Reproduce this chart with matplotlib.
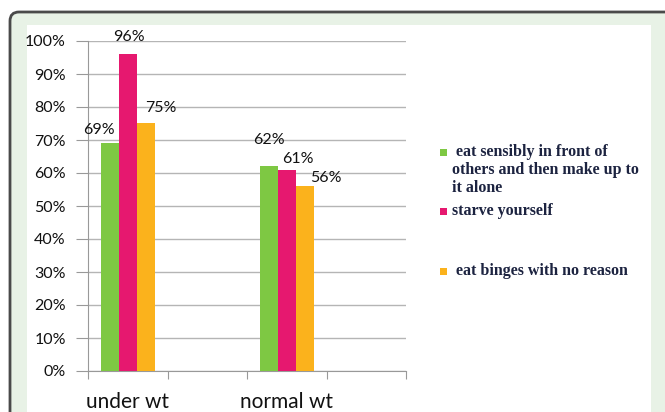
import numpy as np
import matplotlib.pyplot as plt
from matplotlib.patches import FancyBboxPatch, Rectangle
from matplotlib.transforms import IdentityTransform

groups = ['under wt', 'normal wt']
series = ['eat sensibly in front of\nothers and then make up to\nit alone',
          'starve yourself',
          'eat binges with no reason']
values = {
    'eat sensibly': [69, 62],
    'starve yourself': [96, 61],
    'eat binges': [75, 56],
}
colors = ['#7ec843', '#e6186f', '#fbb21c']
# label offsets in pixels (dx, dy) relative to bar top centre
label_offsets = [[(-11, 13), (0, 26)],
                 [(1, 17), (11, 11)],
                 [(15, 16), (21, 8)]]

W, H = 665, 412
fig = plt.figure(figsize=(W / 100, H / 100), dpi=100, facecolor='white')
pix = IdentityTransform()

# background frame, pixel coords measured from top
frame = FancyBboxPatch((10, H - 500), 800, 500 - 12,
                       boxstyle='round,pad=0,rounding_size=9',
                       transform=pix, facecolor='#e8f2e6',
                       edgecolor='#4a4a4a', linewidth=2, zorder=0)
fig.patches.append(frame)
fig.patches.append(Rectangle((27, -10), 651 - 27, H - 25 + 10, transform=pix,
                             facecolor='white', edgecolor='none', zorder=1))

ax = fig.add_axes([88 / W, 41 / H, 318 / W, 330 / H])
ax.set_facecolor('none')
ax.set_zorder(2)

x = np.array([0.5, 2.5])
bw = 0.225
for i, (key, col) in enumerate(zip(values, colors)):
    xs = x + (i - 1) * bw
    bars = ax.bar(xs, values[key], width=bw, color=col, zorder=3)
    for j, b in enumerate(bars):
        dx, dy = label_offsets[i][j]
        ax.annotate(f'{values[key][j]}%', (b.get_x() + b.get_width() / 2, b.get_height()),
                    xytext=(dx, dy), textcoords='offset pixels', ha='center', va='center',
                    fontsize=11.5, family='Lato', color='#111111')

ax.set_xlim(0, 4)
ax.set_ylim(0, 100)
ax.set_yticks(np.arange(0, 101, 10))
ax.set_yticklabels([f'{v}%' for v in range(0, 101, 10)], family='Lato', fontsize=11.5,
                   color='#111111')
ax.set_xticks([0, 1, 2, 3, 4])
ax.set_xticklabels([])
ax.set_xticks(x, minor=True)
ax.set_xticklabels(groups, minor=True, family='Lato', fontsize=15, color='#111111')
ax.tick_params(axis='x', which='minor', length=0, pad=15)
ax.tick_params(axis='x', which='major', length=6, color='#999999')
ax.tick_params(axis='y', length=9, color='#999999', pad=7)
ax.grid(axis='y', color='#b5b5b5', linewidth=1, zorder=0)
for s in ['top', 'right']:
    ax.spines[s].set_visible(False)
for s in ['left', 'bottom']:
    ax.spines[s].set_color('#999999')

# legend drawn manually
leg_text = '#1c2340'
leg = [(colors[0], series[0], 152, 456),
       (colors[1], series[1], 211, 452),
       (colors[2], series[2], 271, 456)]
for col, txt, y, tx in leg:
    fig.patches.append(Rectangle((440, H - y - 4), 7, 7, transform=pix,
                                 facecolor=col, edgecolor='none', zorder=3))
    for k, line in enumerate(txt.split('\n')):
        fig.text((tx if k == 0 else 452) / W, 1 - (y + 18 * k) / H, line,
                 family='Liberation Serif', fontweight='bold', fontsize=11.5,
                 color=leg_text, va='center', ha='left')

fig.savefig('out.png', dpi=100)
